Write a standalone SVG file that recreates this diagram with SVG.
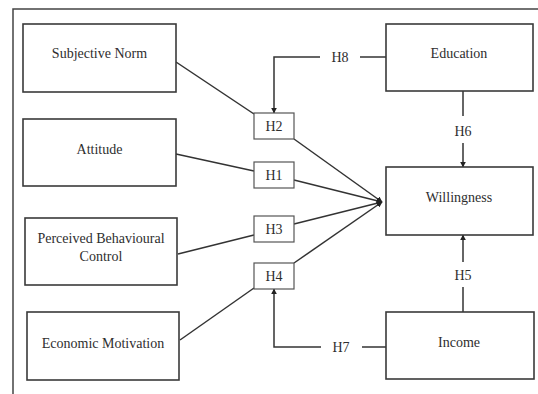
<svg xmlns="http://www.w3.org/2000/svg" width="538" height="394" viewBox="0 0 538 394">
<style>
.box{fill:#fff;stroke:#3a3a3a;stroke-width:1.6}
.hb{fill:#fff;stroke:#555;stroke-width:1.2}
text{font-family:"Liberation Serif","DejaVu Serif","Times New Roman",serif;font-size:14px;fill:#2e2e2e;text-anchor:middle}
.c{fill:none;stroke:#333;stroke-width:1.5}
</style>
<defs>
<marker id="ah" viewBox="0 0 10 10" refX="9" refY="5" markerWidth="6" markerHeight="6" markerUnits="userSpaceOnUse" orient="auto">
<path d="M0,0 L10,5 L0,10 z" fill="#222"/>
</marker>
</defs>
<rect x="0" y="0" width="538" height="394" fill="#fff"/>
<path d="M13,394 V9 H538" fill="none" stroke="#444" stroke-width="1.5"/>
<g id="connectors" font-family="Liberation Serif, serif">
<line class="c" x1="176" y1="62" x2="254" y2="114"/>
<line class="c" x1="176" y1="154" x2="254" y2="171"/>
<line class="c" x1="178" y1="254" x2="254" y2="235"/>
<line class="c" x1="180" y1="340" x2="254" y2="288"/>
<line class="c" x1="294" y1="139" x2="382" y2="202" marker-end="url(#ah)"/>
<line class="c" x1="294" y1="180" x2="382" y2="202" marker-end="url(#ah)"/>
<line class="c" x1="294" y1="224" x2="382" y2="202" marker-end="url(#ah)"/>
<line class="c" x1="294" y1="263" x2="382" y2="202" marker-end="url(#ah)"/>
<line class="c" x1="386" y1="57" x2="360" y2="57"/>
<polyline class="c" points="320,57 274,57 274,113" marker-end="url(#ah)"/>
<line class="c" x1="463" y1="91" x2="463" y2="116"/>
<line class="c" x1="463" y1="143" x2="463" y2="167" marker-end="url(#ah)"/>
<line class="c" x1="463" y1="312" x2="463" y2="287"/>
<line class="c" x1="463" y1="262" x2="463" y2="235" marker-end="url(#ah)"/>
<line class="c" x1="386" y1="347" x2="362" y2="347"/>
<polyline class="c" points="321,347 274,347 274,289" marker-end="url(#ah)"/>
<text x="340" y="62">H8</text>
<text x="463" y="136">H6</text>
<text x="463" y="280">H5</text>
<text x="341" y="352">H7</text>
</g>
<g id="subjective-norm"><rect class="box" x="23" y="24" width="153" height="68"/><text x="99.5" y="58">Subjective Norm</text></g>
<g id="attitude"><rect class="box" x="23" y="119" width="153" height="67"/><text x="99.5" y="154">Attitude</text></g>
<g id="pbc"><rect class="box" x="25" y="218" width="152" height="67"/><text x="101" y="243">Perceived Behavioural</text><text x="101" y="261">Control</text></g>
<g id="economic-motivation"><rect class="box" x="27" y="312" width="152" height="68"/><text x="103" y="348">Economic Motivation</text></g>
<g id="education"><rect class="box" x="386" y="24" width="147" height="67"/><text x="459" y="58">Education</text></g>
<g id="willingness"><rect class="box" x="386" y="167" width="147" height="68"/><text x="459" y="202">Willingness</text></g>
<g id="income"><rect class="box" x="386" y="312" width="148" height="67"/><text x="459" y="347">Income</text></g>
<g id="h2"><rect class="hb" x="254" y="113" width="40" height="26"/><text x="274" y="131">H2</text></g>
<g id="h1"><rect class="hb" x="254" y="162" width="40" height="26"/><text x="274" y="180">H1</text></g>
<g id="h3"><rect class="hb" x="254" y="216" width="40" height="26"/><text x="274" y="234">H3</text></g>
<g id="h4"><rect class="hb" x="254" y="263" width="40" height="26"/><text x="274" y="281">H4</text></g>
</svg>
